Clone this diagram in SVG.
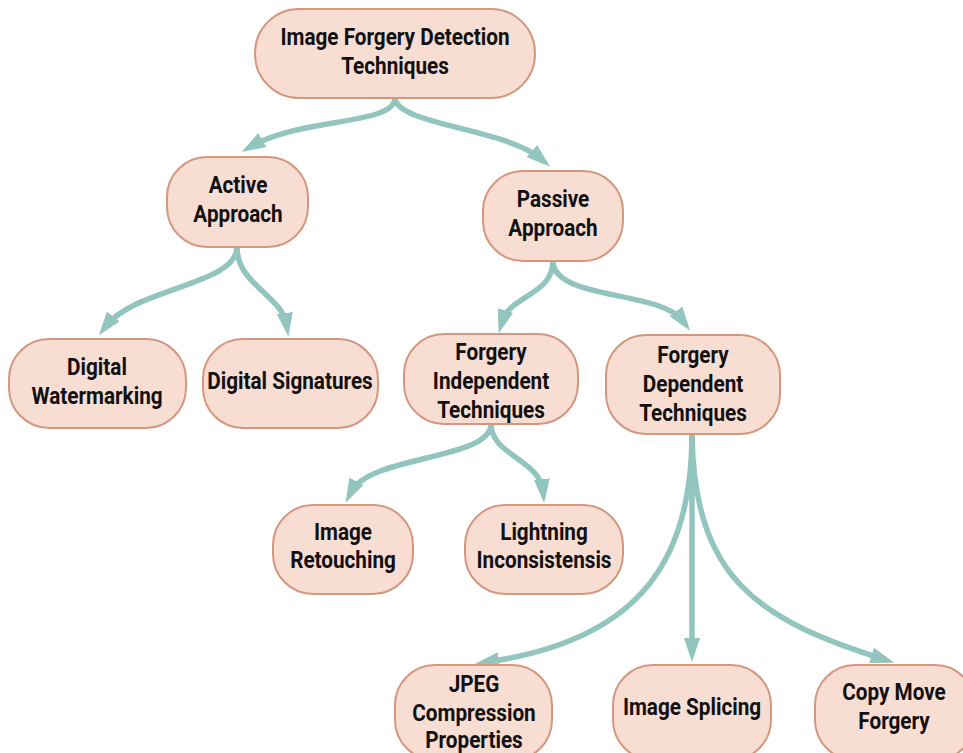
<svg xmlns="http://www.w3.org/2000/svg" width="963" height="753" viewBox="0 0 963 753">
<style>
.n{fill:#f8ddd3;stroke:#d4977d;stroke-width:2}
.t{font-family:"Roboto","Liberation Sans",sans-serif;font-weight:bold;font-size:23px;fill:#111;text-anchor:middle}
.c{fill:none;stroke:#91c5be;stroke-width:5.5}
</style>
<defs>
<marker id="ah" viewBox="0 0 24 16" markerWidth="24" markerHeight="16" refX="12" refY="8" orient="auto" markerUnits="userSpaceOnUse">
<path d="M0,0 L24,8 L0,16 z" fill="#91c5be"/>
</marker>
</defs>
<rect width="963" height="753" fill="#fff"/>
<g id="connectors">
<path class="c" marker-end="url(#ah)" d="M395,98 C395,125 300,118 252,146"/>
<path class="c" marker-end="url(#ah)" d="M395,98 C397,125 505,128 541,159"/>
<path class="c" marker-end="url(#ah)" d="M237,247 C237,285 135,288 106,326"/>
<path class="c" marker-end="url(#ah)" d="M237,247 C237,285 282,295 286.6,325"/>
<path class="c" marker-end="url(#ah)" d="M553,261 C553,295 510,295 502,322"/>
<path class="c" marker-end="url(#ah)" d="M553,261 C553,300 660,290 683,321"/>
<path class="c" marker-end="url(#ah)" d="M491,424 C491,460 370,455 351,492"/>
<path class="c" marker-end="url(#ah)" d="M491,424 C491,455 540,460 543,491"/>
<path class="c" marker-end="url(#ah)" d="M692,434 C692,560 640,640 487,662"/>
<path class="c" marker-end="url(#ah)" d="M692,434 L692,650"/>
<path class="c" marker-end="url(#ah)" d="M692,434 C694,580 760,620 883,659"/>
</g>
<g id="n-root"><rect class="n" x="255" y="9" width="280" height="89" rx="44"/><text class="t" transform="translate(395 45) scale(0.9 1)">Image Forgery Detection</text><text class="t" transform="translate(395 74) scale(0.9 1)">Techniques</text></g>
<g id="n-active"><rect class="n" x="167" y="157" width="141" height="90" rx="40"/><text class="t" transform="translate(238 193) scale(0.9 1)">Active</text><text class="t" transform="translate(238 222) scale(0.9 1)">Approach</text></g>
<g id="n-passive"><rect class="n" x="483" y="171" width="140" height="90" rx="40"/><text class="t" transform="translate(553 207) scale(0.9 1)">Passive</text><text class="t" transform="translate(553 236) scale(0.9 1)">Approach</text></g>
<g id="n-watermark"><rect class="n" x="9" y="339" width="177" height="89" rx="40"/><text class="t" transform="translate(97 375) scale(0.9 1)">Digital</text><text class="t" transform="translate(97 404) scale(0.9 1)">Watermarking</text></g>
<g id="n-signatures"><rect class="n" x="203" y="339" width="175" height="89" rx="40"/><text class="t" transform="translate(290 389) scale(0.9 1)">Digital Signatures</text></g>
<g id="n-independent"><rect class="n" x="404" y="334" width="174" height="90" rx="40"/><text class="t" transform="translate(491 360) scale(0.9 1)">Forgery</text><text class="t" transform="translate(491 389) scale(0.9 1)">Independent</text><text class="t" transform="translate(491 418) scale(0.9 1)">Techniques</text></g>
<g id="n-dependent"><rect class="n" x="606" y="335" width="174" height="99" rx="40"/><text class="t" transform="translate(693 363) scale(0.9 1)">Forgery</text><text class="t" transform="translate(693 392) scale(0.9 1)">Dependent</text><text class="t" transform="translate(693 421) scale(0.9 1)">Techniques</text></g>
<g id="n-retouching"><rect class="n" x="273" y="505" width="140" height="89" rx="40"/><text class="t" transform="translate(343 540) scale(0.9 1)">Image</text><text class="t" transform="translate(343 568) scale(0.9 1)">Retouching</text></g>
<g id="n-lightning"><rect class="n" x="465" y="505" width="158" height="89" rx="40"/><text class="t" transform="translate(544 540) scale(0.9 1)">Lightning</text><text class="t" transform="translate(544 568) scale(0.9 1)">Inconsistensis</text></g>
<g id="n-jpeg"><rect class="n" x="395" y="665" width="157" height="95" rx="40"/><text class="t" transform="translate(474 692) scale(0.9 1)">JPEG</text><text class="t" transform="translate(474 721) scale(0.9 1)">Compression</text><text class="t" transform="translate(474 748) scale(0.9 1)">Properties</text></g>
<g id="n-splicing"><rect class="n" x="613" y="665" width="158" height="95" rx="40"/><text class="t" transform="translate(692 715) scale(0.9 1)">Image Splicing</text></g>
<g id="n-copymove"><rect class="n" x="815" y="665" width="160" height="95" rx="40"/><text class="t" transform="translate(894 700) scale(0.9 1)">Copy Move</text><text class="t" transform="translate(894 729) scale(0.9 1)">Forgery</text></g>
</svg>
